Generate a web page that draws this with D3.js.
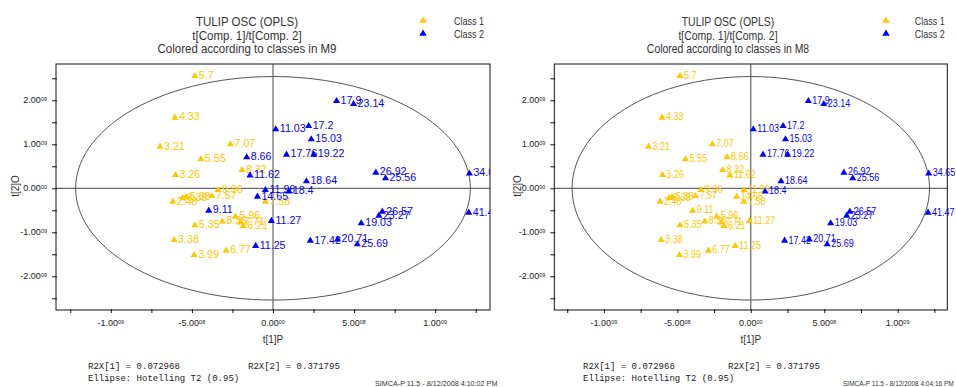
<!DOCTYPE html>
<html>
<head>
<meta charset="utf-8">
<script src="https://cdn.jsdelivr.net/npm/d3@7"></script>
<style>
  body { margin: 0; background: #fff; }
  svg { display: block; }
</style>
</head>
<body>
<div id="chart"></div>
<script>
// sample labels and scores (t[1]P and t[2]O, in units of 1e9)
const labels = ['5.7', '4.33', '3.21', '7.07', '5.55', '8.32', '3.26', '9.96', '6.38', '5.38',
    '2.48', '7.57', '7.58', '5.96', '8.36', '7.71', '6.21', '5.35', '3.38', '3.99', '6.77',
    '17.9', '23.14', '11.03', '17.2', '15.03', '8.66', '17.76', '19.22', '11.62', '18.64',
    '26.92', '25.56', '34.65', '41.47', '11.96', '18.4', '14.65', '9.11', '26.57', '23.27',
    '19.03', '11.27', '17.42', '20.71', '25.69', '11.25'];
const t1 = [-0.482, -0.605, -0.696, -0.262, -0.445, -0.191, -0.601, -0.339, -0.557, -0.537,
    -0.618, -0.377, -0.047, -0.232, -0.313, -0.202, -0.183, -0.482, -0.610, -0.486, -0.289,
    0.392, 0.497, 0.017, 0.220, 0.236, -0.162, 0.083, 0.251, -0.142, 0.206,
    0.634, 0.694, 1.211, 1.207, -0.047, 0.097, -0.096, -0.396, 0.674, 0.653,
    0.544, -0.010, 0.230, 0.398, 0.520, -0.107];
const t2 = [2.552, 1.607, 0.945, 1.000, 0.659, 0.416, 0.302, -0.039, -0.225, -0.200,
    -0.305, -0.175, -0.305, -0.645, -0.755, -0.777, -0.857, -0.841, -1.175, -1.516, -1.418,
    1.984, 1.916, 1.341, 1.416, 1.114, 0.705, 0.764, 0.764, 0.295, 0.159,
    0.355, 0.227, 0.336, -0.555, -0.039, -0.073, -0.191, -0.509, -0.532, -0.623,
    -0.795, -0.743, -1.191, -1.164, -1.273, -1.311];
// class membership in the two models
const classM9 = [1, 1, 1, 1, 1, 1, 1, 1, 1, 1, 1, 1, 1, 1, 1, 1, 1, 1, 1, 1, 1,
    2, 2, 2, 2, 2, 2, 2, 2, 2, 2, 2, 2, 2, 2, 2, 2, 2, 2, 2, 2, 2, 2, 2, 2, 2, 2];
const classM8 = [1, 1, 1, 1, 1, 1, 1, 1, 1, 1, 1, 1, 1, 1, 1, 1, 1, 1, 1, 1, 1,
    2, 2, 2, 2, 2, 1, 2, 2, 1, 2, 2, 2, 2, 2, 1, 2, 1, 1, 2, 2, 2, 1, 2, 2, 2, 1];

const classNames = ['Class 1', 'Class 2'];
const classColours = ['#FFC800', '#0000FF'];

// axis ticks
const xTickValues = [-1, -0.5, 0, 0.5, 1];
const xTickText = ['-1.00', '-5.00', '0.00', '5.00', '1.00'];
const xTickExp = ['09', '08', '00', '08', '09'];
const xMinorTicks = [-1.25, -1, -0.75, -0.5, -0.25, 0, 0.25, 0.5, 0.75, 1, 1.25];
const yTickValues = [-2, -1, 0, 1, 2];
const yTickText = ['-2.00', '-1.00', '0.00', '1.00', '2.00'];
const yTickExp = ['09', '09', '00', '09', '09'];
const yMinorTicks = [-2.5, -2, -1.5, -1, -0.5, 0, 0.5, 1, 1.5, 2, 2.5];

const xDomain = [-1.338, 1.338];
const yDomain = [-2.766, 2.825];
// Hotelling T2 (0.95) ellipse radii
const ellipseRx = 1.217;
const ellipseRy = 2.54;

const fontColour = '#333';
const plotTop = 64;
const plotBottom = 310;

const svg = d3
    .select('#chart')
    .append('svg')
    .attr('width', 956)
    .attr('height', 387)
    .style('font-family', 'Arial, "Liberation Sans", sans-serif');

const panels = [
    {
        id: 'p1', left: 56, right: 490, model: 'M9', classes: classM9,
        titleX: 247, titleSize: 12.8, titleSx: 0.9,
        legendX: 423, legendTextX: 454,
        labelSize: 11.6, labelSx: 0.92,
        yLabelX: 19, footX: 88, foot2X: 248,
        stamp: 'SIMCA-P 11.5 - 8/12/2008 4:10:02 PM', stampX: 375, stampSize: 7.2,
        clip: true,
    },
    {
        id: 'p2', left: 554.3, right: 947.3, model: 'M8', classes: classM8,
        titleX: 728, titleSize: 12, titleSx: 0.87,
        legendX: 886, legendTextX: 914.7,
        labelSize: 10.7, labelSx: 0.84,
        yLabelX: 521, footX: 583, foot2X: 728,
        stamp: 'SIMCA-P 11.5 - 8/12/2008 4:04:16 PM', stampX: 843, stampSize: 6.5,
        clip: false,
    },
];

function addText(g, x, y, str, size, sx, anchor) {
    return g
        .append('text')
        .attr('transform', `translate(${x},${y}) scale(${sx},1)`)
        .attr('font-size', size)
        .attr('text-anchor', anchor || 'start')
        .attr('fill', fontColour)
        .text(str);
}

function drawPanel(p) {
    const g = svg.append('g');
    const x = d3.scaleLinear().domain(xDomain).range([p.left, p.right]);
    const y = d3.scaleLinear().domain(yDomain).range([plotBottom, plotTop]);
    const mid = x(0);

    // title
    addText(g, p.titleX, 26, 'TULIP OSC (OPLS)', p.titleSize, p.titleSx, 'middle');
    addText(g, p.titleX, 39.5, 't[Comp. 1]/t[Comp. 2]', p.titleSize, p.titleSx, 'middle');
    addText(g, p.titleX, 53, 'Colored according to classes in ' + p.model, p.titleSize, p.titleSx, 'middle');

    // legend
    classNames.forEach((name, i) => {
        g.append('path')
            .attr('d', d3.symbol().type(d3.symbolTriangle).size(24)())
            .attr('transform', `translate(${p.legendX},${20.7 + i * 13})`)
            .attr('fill', classColours[i]);
        addText(g, p.legendTextX, 25 + i * 13, name, 10.7, 0.84);
    });

    // frame and zero lines
    g.append('rect')
        .attr('x', p.left).attr('y', plotTop)
        .attr('width', p.right - p.left).attr('height', plotBottom - plotTop)
        .attr('fill', 'none').attr('stroke', '#111');
    g.append('line')
        .attr('x1', mid).attr('x2', mid).attr('y1', plotTop).attr('y2', plotBottom)
        .attr('stroke', '#444');
    g.append('line')
        .attr('x1', p.left).attr('x2', p.right).attr('y1', y(0)).attr('y2', y(0))
        .attr('stroke', '#444');

    // axes
    const xAxis = g.append('g')
        .attr('transform', `translate(0,${plotBottom})`)
        .call(d3.axisBottom(x).tickValues(xMinorTicks).tickSize(3).tickFormat(() => ''));
    xAxis.select('.domain').remove();
    xAxis.selectAll('line').attr('y1', -1).attr('stroke', '#111');

    const yAxis = g.append('g')
        .attr('transform', `translate(${p.left},0)`)
        .call(d3.axisLeft(y).tickValues(yMinorTicks).tickSize(4).tickFormat(() => ''));
    yAxis.select('.domain').remove();
    yAxis.selectAll('line').attr('x1', 1).attr('stroke', '#111');

    xTickValues.forEach((v, i) => {
        const t = g.append('text')
            .attr('x', x(v)).attr('y', plotBottom + 16)
            .attr('text-anchor', 'middle').attr('font-size', 9).attr('fill', '#222');
        t.append('tspan').text(xTickText[i]);
        t.append('tspan').attr('font-size', 5.5).attr('dy', -2).text(xTickExp[i]);
    });
    yTickValues.forEach((v, i) => {
        const t = g.append('text')
            .attr('x', p.left - 9).attr('y', y(v) + 3)
            .attr('text-anchor', 'end').attr('font-size', 9).attr('fill', '#222');
        t.append('tspan').text(yTickText[i]);
        t.append('tspan').attr('font-size', 5.5).attr('dy', -2).text(yTickExp[i]);
    });

    // axis titles
    g.append('text')
        .attr('transform', `translate(${p.yLabelX},186) rotate(-90)`)
        .attr('text-anchor', 'middle').attr('font-size', 10).attr('fill', fontColour)
        .text('t[2]O');
    g.append('text')
        .attr('x', mid).attr('y', 343)
        .attr('text-anchor', 'middle').attr('font-size', 10).attr('fill', fontColour)
        .text('t[1]P');

    // ellipse
    const angles = d3.range(0, 361, 3).map((a) => (a * Math.PI) / 180);
    g.append('path')
        .datum(angles)
        .attr('fill', 'none')
        .attr('stroke', '#555')
        .attr('stroke-width', 1)
        .attr('d', d3.line()
            .x((a) => x(ellipseRx * Math.cos(a)))
            .y((a) => y(ellipseRy * Math.sin(a))));

    // points
    if (p.clip) {
        svg.append('clipPath').attr('id', 'clip-' + p.id)
            .append('rect')
            .attr('x', p.left).attr('y', plotTop)
            .attr('width', p.right - p.left).attr('height', plotBottom - plotTop);
    }
    const pts = g.append('g');
    if (p.clip) pts.attr('clip-path', `url(#clip-${p.id})`);

    const tri = d3.symbol().type(d3.symbolTriangle).size(22)();
    d3.range(labels.length).forEach((i) => {
        const colour = classColours[p.classes[i] - 1];
        const px = x(t1[i]);
        const py = y(t2[i]);
        pts.append('path')
            .attr('d', tri)
            .attr('transform', `translate(${px},${py})`)
            .attr('fill', colour);
        pts.append('text')
            .attr('transform', `translate(${px + 4},${py + 2.8}) scale(${p.labelSx},1)`)
            .attr('font-size', p.labelSize)
            .attr('fill', colour)
            .text(labels[i]);
    });

    // footer
    const mono = (xx, yy, s) => g.append('text')
        .attr('x', xx).attr('y', yy)
        .attr('font-family', '"Liberation Mono", "Courier New", monospace')
        .attr('font-size', 9).attr('fill', '#222')
        .text(s);
    mono(p.footX, 369, 'R2X[1] = 0.072968');
    mono(p.foot2X, 369, 'R2X[2] = 0.371795');
    mono(p.footX, 381, 'Ellipse: Hotelling T2 (0.95)');

    g.append('text')
        .attr('x', p.stampX).attr('y', 386)
        .attr('font-size', p.stampSize).attr('fill', fontColour)
        .text(p.stamp);
}

panels.forEach(drawPanel);
</script>
</body>
</html>
